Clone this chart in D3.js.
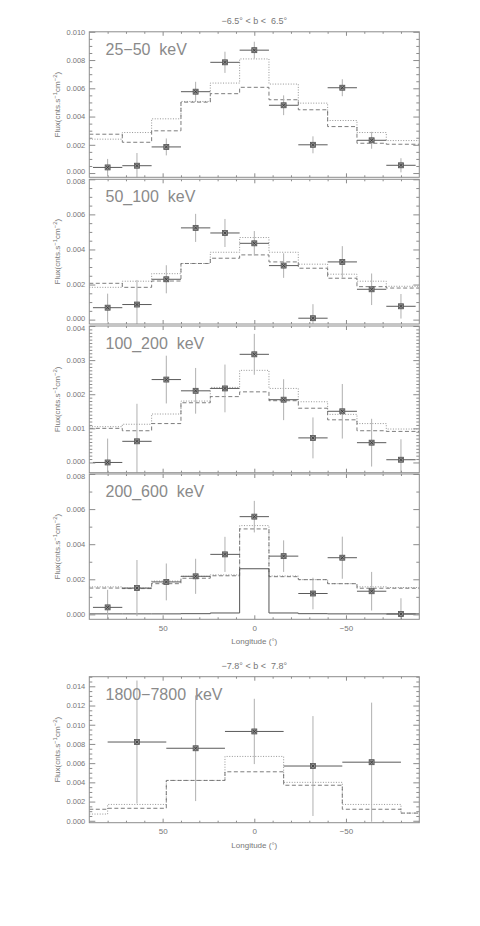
<!DOCTYPE html>
<html><head><meta charset="utf-8">
<script src="https://cdn.jsdelivr.net/npm/d3@7"></script>
<style>
body{margin:0;background:#fff;}
svg text{font-family:"Liberation Sans",Arial,sans-serif;fill:#777;}
</style></head><body>
<svg id="c" width="480" height="926"></svg>
<script>
// ---------- data ----------
const longitudes16 = [80,64,48,32,16,0,-16,-32,-48,-64,-80];
const binEdges16 = [90,72,56,40,24,8,-8,-24,-40,-56,-72,-90];
const halfWidth16 = 8;
const longitudes32 = [64,32,0,-32,-64];
const binEdges32 = [90,80,48,16,-16,-48,-80,-90];
const halfWidth32 = 16;

const flux_25_50   = [0.0004,0.00052,0.00185,0.00576,0.00784,0.0087,0.0048,0.0020,0.00604,0.00232,0.00055];
const err_25_50    = [0.0006,0.0009,0.0006,0.0007,0.00075,0.0006,0.0007,0.0006,0.0006,0.0006,0.0005];
const dotted_25_50 = [0.0024,0.00287,0.00384,0.00507,0.00637,0.00808,0.0063,0.00495,0.00372,0.00287,0.0023];
const dashed_25_50 = [0.00275,0.00218,0.00299,0.00502,0.00562,0.00607,0.00519,0.00448,0.00329,0.00211,0.00204];

const flux_50_100   = [0.00068,0.00086,0.0023,0.00523,0.00494,0.00435,0.00308,0.00008,0.00329,0.00173,0.00076];
const err_50_100    = [0.0008,0.0014,0.0008,0.0008,0.0008,0.0007,0.0007,0.0008,0.0009,0.0009,0.0007];
const dotted_50_100 = [0.00184,0.00219,0.00262,0.0032,0.00384,0.00468,0.00384,0.00316,0.00259,0.00219,0.0019];
const dashed_50_100 = [0.00207,0.00184,0.0022,0.0032,0.0035,0.00369,0.00329,0.00293,0.00236,0.00188,0.0018];

const flux_100_200   = [0.0000,0.00062,0.00243,0.0021,0.00217,0.00317,0.00184,0.00072,0.0015,0.00058,0.00008];
const err_100_200    = [0.0007,0.0011,0.0007,0.00067,0.0007,0.0006,0.0006,0.0006,0.0008,0.0007,0.0006];
const dotted_100_200 = [0.00105,0.00112,0.00142,0.0018,0.0022,0.0027,0.00217,0.00178,0.00141,0.00114,0.00098];
const dashed_100_200 = [0.0010,0.00093,0.00114,0.00175,0.00193,0.00207,0.00181,0.00159,0.00125,0.00093,0.00091];

const flux_200_600   = [0.0004,0.0015,0.00185,0.00217,0.00342,0.00557,0.00332,0.00119,0.00323,0.00132,0.00002];
const err_200_600    = [0.0010,0.0016,0.00105,0.0010,0.0010,0.0009,0.0009,0.0009,0.0012,0.0011,0.0009];
const dotted_200_600 = [0.00157,0.0015,0.0019,0.00217,0.00225,0.00506,0.00219,0.00198,0.00175,0.00157,0.00153];
const dashed_200_600 = [0.0015,0.00147,0.00175,0.00206,0.0022,0.00487,0.00215,0.00198,0.00175,0.00149,0.00149];
const solid_200_600  = [0.00003,0.00003,0.00003,0.00004,0.00008,0.0026,0.00008,0.00004,0.00003,0.00003,0.00003];

const flux_1800_7800   = [0.0082,0.00755,0.0093,0.0057,0.0061];
const err_1800_7800    = [0.0064,0.0055,0.0034,0.0052,0.0062];
const dotted_1800_7800 = [0.0007,0.0017,0.0042,0.0067,0.0040,0.0017,0.0008];
const dashed_1800_7800 = [0.0012,0.0013,0.0042,0.0051,0.0037,0.0012,0.0008];

const panelLabels = ["25\u221250  keV","50_100  keV","100_200  keV","200_600  keV","1800\u22127800  keV"];
const titles = ["\u22126.5\u00b0 < b <  6.5\u00b0","\u22127.8\u00b0 < b <  7.8\u00b0"];
const xTickMajor = [50,0,-50];
const xTickLabels = ["50","0","\u221250"];
const xTickMinor = [80,70,60,40,30,20,10,-10,-20,-30,-40,-60,-70,-80];
const yTicks1 = [0,0.002,0.004,0.006,0.008,0.010];
const yTicks2 = [0,0.002,0.004,0.006,0.008];
const yTicks3 = [0,0.001,0.002,0.003,0.004];
const yTicks4 = [0,0.002,0.004,0.006,0.008];
const yTicks5 = [0,0.002,0.004,0.006,0.008,0.010,0.012,0.014];

// ---------- layout ----------
const svg = d3.select("#c");
const X0 = 89.3, X1 = 419.3;
const x = d3.scaleLinear().domain([90,-90]).range([X0, X1]);

const panels = [
  {top:31.8, bottom:177.3, dom:[-0.0003,0.010], ticks:yTicks1, minor:0.0005, label:panelLabels[0],
   lon:longitudes16, hw:halfWidth16, edges:binEdges16, flux:flux_25_50, err:err_25_50, dotted:dotted_25_50, dashed:dashed_25_50, title:titles[0], below:true},
  {top:179.3, bottom:324, dom:[-0.00025,0.008], ticks:yTicks2, minor:0.0005, label:panelLabels[1],
   lon:longitudes16, hw:halfWidth16, edges:binEdges16, flux:flux_50_100, err:err_50_100, dotted:dotted_50_100, dashed:dashed_50_100, above:true, below:true},
  {top:326, bottom:472.7, dom:[-0.0003,0.004], ticks:yTicks3, minor:0.0001, label:panelLabels[2],
   lon:longitudes16, hw:halfWidth16, edges:binEdges16, flux:flux_100_200, err:err_100_200, dotted:dotted_100_200, dashed:dashed_100_200, above:true, below:true},
  {top:474, bottom:619.3, dom:[-0.00028,0.008], ticks:yTicks4, minor:0.001, label:panelLabels[3],
   lon:longitudes16, hw:halfWidth16, edges:binEdges16, flux:flux_200_600, err:err_200_600, dotted:dotted_200_600, dashed:dashed_200_600, solid:solid_200_600, xlabels:true, above:true},
  {top:676.7, bottom:822.7, dom:[-0.0002,0.015], ticks:yTicks5, minor:0.0005, label:panelLabels[4],
   lon:longitudes32, hw:halfWidth32, edges:binEdges32, flux:flux_1800_7800, err:err_1800_7800, dotted:dotted_1800_7800, dashed:dashed_1800_7800, title:titles[1], xlabels:true}
];

const AX = "#8c8c8c";
panels.forEach((p, pi) => {
  const y = d3.scaleLinear().domain(p.dom).range([p.bottom, p.top]);
  const g = svg.append("g");
  const cid = "clip" + pi;
  svg.append("clipPath").attr("id", cid).append("rect")
    .attr("x", X0).attr("y", p.top).attr("width", X1 - X0).attr("height", p.bottom - p.top);
  const pg = g.append("g").attr("clip-path", `url(#${cid})`);

  // model step lines
  const step = d3.line().x(d => x(d[0])).y(d => y(d[1])).curve(d3.curveStepAfter);
  const stepPts = vals => p.edges.map((e, i) => [e, vals[Math.min(i, vals.length - 1)]]);
  pg.append("path").attr("d", step(stepPts(p.dotted))).attr("fill","none")
    .attr("stroke","#8a8a8a").attr("stroke-width",0.9).attr("stroke-dasharray","1,1.6");
  pg.append("path").attr("d", step(stepPts(p.dashed))).attr("fill","none")
    .attr("stroke","#6e6e6e").attr("stroke-width",0.9).attr("stroke-dasharray","4,2.5");
  if (p.solid) {
    pg.append("path").attr("d", step(stepPts(p.solid))).attr("fill","none")
      .attr("stroke","#555").attr("stroke-width",1);
  }

  // error bars + markers
  const pts = p.lon.map((l, i) => ({l, f:p.flux[i], e:p.err[i]}));
  pg.selectAll(".ev").data(pts).enter().append("line")
    .attr("x1", d => x(d.l)).attr("x2", d => x(d.l))
    .attr("y1", d => y(d.f - d.e)).attr("y2", d => y(d.f + d.e))
    .attr("stroke","#b0b0b0").attr("stroke-width",1);
  pg.selectAll(".eh").data(pts).enter().append("line")
    .attr("x1", d => x(d.l + p.hw)).attr("x2", d => x(d.l - p.hw))
    .attr("y1", d => y(d.f)).attr("y2", d => y(d.f))
    .attr("stroke","#5a5a5a").attr("stroke-width",1);
  pg.selectAll(".mk").data(pts).enter().append("rect")
    .attr("x", d => x(d.l) - 2.5).attr("y", d => y(d.f) - 2.5)
    .attr("width",5).attr("height",5)
    .attr("fill","#8c8c8c").attr("stroke","#555").attr("stroke-width",0.8);
  pg.selectAll(".mc").data(pts).enter().append("path")
    .attr("d", d => { const cx = x(d.l), cy = y(d.f);
      return `M${cx-1.5},${cy-1.5}L${cx+1.5},${cy+1.5}M${cx-1.5},${cy+1.5}L${cx+1.5},${cy-1.5}`; })
    .attr("stroke","#333").attr("stroke-width",0.8);

  // axes
  const minorY = d3.range(0, p.dom[1] + 1e-9, p.minor).filter(v => !p.ticks.some(t => Math.abs(t - v) < 1e-9));
  const styleAxis = a => { a.select(".domain").remove(); a.selectAll("line").attr("stroke", AX); };
  const la = g.append("g").attr("transform",`translate(${X0},0)`)
    .call(d3.axisLeft(y).tickValues(p.ticks).tickSize(-6).tickPadding(4).tickFormat(d3.format(".3f")));
  styleAxis(la);
  la.selectAll("text").attr("font-size","7.5px").attr("font-family",null).style("fill","#777")
    .attr("dy", d => {
      if (p.below && d === 0) return "0.1em";
      if (p.above && Math.abs(d - p.dom[1]) < 1e-9) return "0.55em";
      return "0.32em";
    });
  const lm = g.append("g").attr("transform",`translate(${X0},0)`)
    .call(d3.axisLeft(y).tickValues(minorY).tickSize(-3).tickFormat(""));
  styleAxis(lm);
  const ra = g.append("g").attr("transform",`translate(${X1},0)`)
    .call(d3.axisRight(y).tickValues(p.ticks).tickSize(-6).tickFormat(""));
  styleAxis(ra);
  const rm = g.append("g").attr("transform",`translate(${X1},0)`)
    .call(d3.axisRight(y).tickValues(minorY).tickSize(-3).tickFormat(""));
  styleAxis(rm);

  const ba = g.append("g").attr("transform",`translate(0,${p.bottom})`)
    .call(d3.axisBottom(x).tickValues(xTickMajor).tickSize(-4).tickPadding(6)
      .tickFormat((d, i) => p.xlabels ? xTickLabels[i] : ""));
  styleAxis(ba); ba.selectAll("text").attr("font-size","8px").attr("font-family",null).style("fill","#777");
  const bm = g.append("g").attr("transform",`translate(0,${p.bottom})`)
    .call(d3.axisBottom(x).tickValues(xTickMinor).tickSize(-2).tickFormat(""));
  styleAxis(bm);
  const ta = g.append("g").attr("transform",`translate(0,${p.top})`)
    .call(d3.axisTop(x).tickValues(xTickMajor).tickSize(-4).tickFormat(""));
  styleAxis(ta);
  const tm = g.append("g").attr("transform",`translate(0,${p.top})`)
    .call(d3.axisTop(x).tickValues(xTickMinor).tickSize(-2).tickFormat(""));
  styleAxis(tm);

  g.append("rect").attr("x", X0).attr("y", p.top).attr("width", X1 - X0).attr("height", p.bottom - p.top)
    .attr("fill","none").attr("stroke", AX).attr("stroke-width",1);

  // panel label
  g.append("text").attr("x", 105.5).attr("y", p.top + 23).attr("font-size","16px")
    .style("fill","#8a8a8a").attr("xml:space","preserve").text(p.label);

  // y label
  const yc = (p.top + p.bottom) / 2;
  const yl = g.append("text").attr("transform",`translate(60,${yc}) rotate(-90)`)
    .attr("text-anchor","middle").attr("font-size","8px");
  yl.append("tspan").text("Flux(cnts.s");
  yl.append("tspan").attr("dy",-3).attr("font-size","6px").text("\u22121");
  yl.append("tspan").attr("dy",3).text("cm");
  yl.append("tspan").attr("dy",-3).attr("font-size","6px").text("\u22122");
  yl.append("tspan").attr("dy",3).text(")");

  if (p.title) {
    g.append("text").attr("x", (X0 + X1) / 2).attr("y", p.top - 8).attr("text-anchor","middle")
      .attr("font-size","9px").attr("xml:space","preserve").text(p.title);
  }
  if (p.xlabels) {
    g.append("text").attr("x", (X0 + X1) / 2).attr("y", p.bottom + 25).attr("text-anchor","middle")
      .attr("font-size","8px").text("Longitude (\u00b0)");
  }
});
</script>
</body></html>
